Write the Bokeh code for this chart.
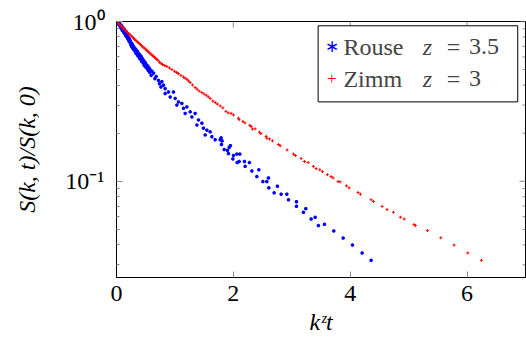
import math
from bokeh.plotting import figure
from bokeh.models import (FixedTicker, CustomJSTickFormatter, BoxAnnotation, Label, Range1d)
from bokeh.embed import file_html
from bokeh.resources import INLINE

# ---- data ----
rouse_x = [0.012, 0.021, 0.029, 0.038, 0.046, 0.055, 0.063, 0.072, 0.080, 0.089,
           0.098, 0.106, 0.115, 0.123, 0.132, 0.140, 0.149, 0.157, 0.166, 0.175,
           0.183, 0.192, 0.200, 0.209, 0.217, 0.226, 0.234, 0.243, 0.251, 0.260,
           0.269, 0.277, 0.286, 0.294, 0.303, 0.320, 0.328, 0.337, 0.354, 0.363,
           0.371, 0.388, 0.397, 0.405, 0.423, 0.431, 0.440, 0.457, 0.465, 0.474,
           0.491, 0.500, 0.508, 0.525, 0.534, 0.542, 0.559, 0.568, 0.577,
           0.606, 0.633, 0.594, 0.679, 0.657, 0.719, 0.777, 0.736, 0.804, 0.760,
           0.833, 0.890, 0.833, 0.975, 0.919, 1.004, 1.061, 1.119, 1.033, 1.146,
           1.204, 1.261, 1.175, 1.346, 1.290, 1.403, 1.461, 1.376, 1.488, 1.547,
           1.603, 1.518, 1.632, 1.689, 1.774,
           1.791, 1.808, 1.796, 1.950, 1.928, 1.843, 1.899, 2.060, 2.111, 2.002,
           1.916, 1.991, 2.099, 2.065, 2.190, 2.275, 2.202, 2.436, 2.317, 2.402,
           2.600, 2.505, 2.573, 2.754, 2.607, 2.698, 2.818, 2.915, 2.943, 3.080,
           3.080, 3.240, 3.199, 3.331, 3.400, 3.456, 3.559, 3.719, 3.879, 4.038,
           4.204, 4.358]
rouse_s = [0.996, 0.974, 0.989, 0.961, 0.954, 0.970, 0.934, 0.914, 0.947, 0.901,
           0.882, 0.920, 0.875, 0.857, 0.895, 0.839, 0.851, 0.815, 0.863, 0.803,
           0.827, 0.781, 0.798, 0.759, 0.781, 0.743, 0.759, 0.717, 0.737, 0.696,
           0.722, 0.681, 0.701, 0.667, 0.687, 0.648, 0.672, 0.630, 0.653, 0.612,
           0.635, 0.595, 0.621, 0.582, 0.604, 0.562, 0.587, 0.550, 0.570, 0.531,
           0.554, 0.519, 0.538, 0.508, 0.527, 0.494, 0.512, 0.480, 0.498,
           0.489, 0.475, 0.460, 0.453, 0.439, 0.428, 0.420, 0.408, 0.399, 0.389,
           0.380, 0.362, 0.354, 0.362, 0.337, 0.330, 0.314, 0.307, 0.300, 0.286,
           0.292, 0.272, 0.266, 0.266, 0.253, 0.242, 0.231, 0.225, 0.215, 0.209,
           0.204, 0.195, 0.190, 0.182, 0.182,
           0.187, 0.179, 0.170, 0.167, 0.163, 0.158, 0.156, 0.148, 0.148, 0.145,
           0.149, 0.138, 0.133, 0.131, 0.133, 0.131, 0.124, 0.118, 0.116, 0.107,
           0.105, 0.0996, 0.0996, 0.0931, 0.0910, 0.0847, 0.0831, 0.0831, 0.0766, 0.0745,
           0.0697, 0.0674, 0.0639, 0.0581, 0.0595, 0.0528, 0.0538, 0.0489, 0.0441, 0.0399,
           0.0356, 0.0320]

zimm_x = [0.01, 0.03, 0.05, 0.07, 0.09, 0.11, 0.13, 0.15, 0.17, 0.19,
          0.21, 0.23, 0.25, 0.27, 0.29, 0.31, 0.33, 0.35, 0.37, 0.39,
          0.41, 0.43, 0.45, 0.47, 0.49, 0.51, 0.53, 0.55, 0.57, 0.59,
          0.61, 0.63, 0.65, 0.67, 0.69, 0.71,
          0.736, 0.762, 0.787, 0.825, 0.862, 0.905, 0.948, 0.992, 1.028, 1.061,
          1.103, 1.146, 1.175, 1.204, 1.232, 1.261, 1.302, 1.346, 1.380, 1.415,
          1.461, 1.498, 1.535, 1.570, 1.603, 1.649, 1.690, 1.728, 1.775, 1.820,
          1.872, 1.911, 1.962, 2.002, 2.087, 2.099, 2.163, 2.197, 2.282, 2.305,
          2.327, 2.373, 2.447, 2.470, 2.561, 2.573, 2.618, 2.669, 2.772, 2.801,
          2.920, 3.028, 3.062, 3.160, 3.216, 3.280, 3.370, 3.417, 3.480, 3.524,
          3.610,
          3.673, 3.707, 3.793, 3.827, 3.935, 3.981, 4.135, 4.175, 4.358, 4.397,
          4.546, 4.631, 4.739, 4.859, 4.922, 5.093, 5.116, 5.321, 5.550, 5.778,
          6.012, 6.245]
zimm_s = [0.992, 0.975, 0.959, 0.943, 0.927, 0.912, 0.897, 0.882, 0.868, 0.853,
          0.840, 0.826, 0.813, 0.800, 0.787, 0.775, 0.763, 0.751, 0.739, 0.727,
          0.716, 0.705, 0.694, 0.684, 0.674, 0.663, 0.653, 0.644, 0.634, 0.625,
          0.615, 0.606, 0.598, 0.589, 0.580, 0.572,
          0.556, 0.548, 0.538, 0.531, 0.523, 0.512, 0.501, 0.488, 0.480, 0.471,
          0.460, 0.449, 0.442, 0.435, 0.425, 0.415, 0.400, 0.386, 0.377, 0.367,
          0.359, 0.352, 0.346, 0.338, 0.330, 0.318, 0.311, 0.304, 0.296, 0.288,
          0.274, 0.268, 0.266, 0.260, 0.248, 0.243, 0.237, 0.232, 0.224, 0.220,
          0.212, 0.213, 0.203, 0.199, 0.191, 0.186, 0.184, 0.179, 0.170, 0.167,
          0.157, 0.148, 0.145, 0.139, 0.133, 0.131, 0.124, 0.120, 0.118, 0.115,
          0.110,
          0.107, 0.105, 0.0996, 0.0991, 0.0936, 0.0910, 0.0851, 0.0830, 0.0766, 0.0748,
          0.0697, 0.0665, 0.0640, 0.0596, 0.0581, 0.0536, 0.0528, 0.0492, 0.0443, 0.0399,
          0.0356, 0.0320]

x_ticks = [0, 2, 4, 6]
y_ticks = [0.1, 1.0]
y_minor = [0.03, 0.04, 0.05, 0.06, 0.07, 0.08, 0.09,
           0.2, 0.3, 0.4, 0.5, 0.6, 0.7, 0.8, 0.9]
x_range = (0, 7)
y_range = (0.025, 1.0)

series = [
    ("Rouse", "z", "=", "3.5", "∗", "#0000ff"),
    ("Zimm", "z", "=", "3", "+", "#ff0000"),
]

FONT = "Liberation Serif"
FS = "24px"
TICK_COL = "#8a8a8a"

p = figure(width=526, height=347, x_range=Range1d(*x_range), y_range=Range1d(*y_range),
           y_axis_type="log", output_backend="svg", toolbar_location=None,
           min_border_left=116, min_border_right=1, min_border_top=21,
           min_border_bottom=70)
p.grid.visible = False
p.outline_line_color = "black"
p.outline_line_width = 1
p.background_fill_color = "white"
p.border_fill_color = "white"

p.scatter(rouse_x, rouse_s, marker="asterisk", size=3.5, line_color="#0000ff", line_width=1.2)
p.scatter(zimm_x, zimm_s, marker="cross", size=3, line_color="#ff0000", line_width=1)

# mirrored ticks on the top and right edges, drawn from the tick lists
p.ray(x=x_ticks[1:], y=[y_range[1]] * len(x_ticks[1:]), length=6, length_units="screen",
      angle=-math.pi / 2, line_color=TICK_COL, line_width=1)
p.ray(x=[x_range[1]] * len(y_ticks), y=y_ticks, length=6, length_units="screen",
      angle=math.pi, line_color=TICK_COL, line_width=1)
p.ray(x=[x_range[1]] * len(y_minor), y=y_minor, length=3, length_units="screen",
      angle=math.pi, line_color=TICK_COL, line_width=1)

def style_axis(ax):
    ax.axis_line_color = "black"
    ax.major_tick_in = 6
    ax.major_tick_out = 0
    ax.minor_tick_in = 3
    ax.minor_tick_out = 0
    ax.major_tick_line_color = TICK_COL
    ax.minor_tick_line_color = TICK_COL
    ax.major_label_text_font = FONT
    ax.major_label_text_font_size = FS
    ax.major_label_text_color = "black"
    ax.axis_label_text_font = FONT
    ax.axis_label_text_font_size = FS
    ax.axis_label_text_font_style = "italic"
    ax.axis_label_text_color = "black"

# bottom x axis
xb = p.xaxis[0]
xb.ticker = FixedTicker(ticks=x_ticks)
style_axis(xb)
xb.minor_tick_line_color = None
xb.major_label_standoff = 8
xb.axis_label = "kᶻt"
xb.axis_label_standoff = 5

# left y axis
yl = p.yaxis[0]
yl.ticker = FixedTicker(ticks=y_ticks, minor_ticks=y_minor)
yl.formatter = CustomJSTickFormatter(code="return tick > 0.5 ? '10\u2070' : '10\u207b\u00b9';")
style_axis(yl)
yl.major_label_standoff = 12
yl.axis_label = "S(k, t)/S(k, 0)"
yl.axis_label_standoff = 22

# legend (box + text labels)
p.add_layout(BoxAnnotation(left=3.451, right=6.867, bottom=0.314, top=0.940,
                           fill_color="white", fill_alpha=1.0,
                           line_color="black", line_width=1, line_alpha=1.0))
rows_y = [0.696, 0.438]
for (name, var, eq, num, sym, col), yy in zip(series, rows_y):
    p.add_layout(Label(x=3.685, y=yy, text=sym, text_color=col, text_font=FONT,
                       text_font_size="17px", text_align="center", text_baseline="middle"))
    p.add_layout(Label(x=3.884, y=yy, text=name, text_font=FONT, text_font_size=FS,
                       text_baseline="middle"))
    p.add_layout(Label(x=5.242, y=yy, text=var, text_font=FONT, text_font_style="italic",
                       text_font_size=FS, text_baseline="middle"))
    p.add_layout(Label(x=5.769, y=yy, text=eq, text_font=FONT, text_font_size=FS,
                       text_align="center", text_baseline="middle"))
    p.add_layout(Label(x=6.034, y=yy, text=num, text_font=FONT, text_font_size=FS,
                       text_baseline="middle"))

open("out.html", "w").write(file_html(p, INLINE))
